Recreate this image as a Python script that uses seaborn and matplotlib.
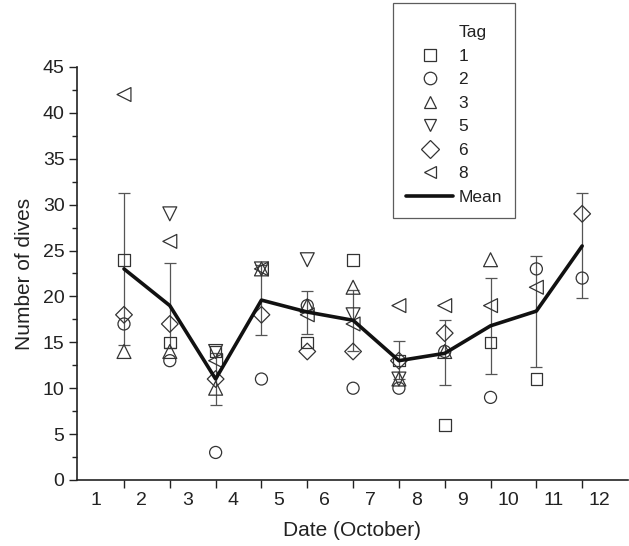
import numpy as np
import pandas as pd
import matplotlib
matplotlib.use("Agg")
import matplotlib.pyplot as plt
from matplotlib.lines import Line2D
import seaborn as sns

# ---- data ----
dates = [2, 3, 4, 5, 6, 7, 8, 9, 10, 11, 12]
tag_1 = [24, 15, 14, np.nan, 15, 24, 13, 6, 15, 11, np.nan]
tag_2 = [17, 13, 3, 11, 19, 10, 10, 14, 9, 23, 22]
tag_3 = [14, 14, 10, 23, 19, 21, 11, 14, 24, np.nan, np.nan]
tag_5 = [np.nan, 29, 14, 23, 24, 18, 11, np.nan, np.nan, np.nan, np.nan]
tag_6 = [18, 17, 11, 18, 14, 14, 13, 16, np.nan, np.nan, 29]
tag_8 = [42, 26, 13, 23, 18, 17, 19, 19, 19, 21, np.nan]
mean_dives = [23, 19, 11, 19.6, 18.3, 17.4, 13.0, 13.8, 16.8, 18.4, 25.5]
err_low = [14.7, 14.4, 8.2, 15.8, 15.9, 14.1, 11.0, 10.3, 11.6, 12.3, 19.8]
err_high = [31.3, 23.6, 13.8, 23.4, 20.6, 20.7, 15.1, 17.4, 22.0, 24.4, 31.3]
tag_names = ["1", "2", "3", "5", "6", "8"]
day_labels = ["1", "2", "3", "4", "5", "6", "7", "8", "9", "10", "11", "12"]

tag_series = [tag_1, tag_2, tag_3, tag_5, tag_6, tag_8]
rows = []
for name, vals in zip(tag_names, tag_series):
    for d, v in zip(dates, vals):
        if not np.isnan(v):
            rows.append({"Date": d, "Dives": v, "Tag": name})
df = pd.DataFrame(rows)
mean_df = pd.DataFrame({"Date": dates, "Mean": mean_dives})

sns.set_theme(style="ticks")
plt.rcParams["font.family"] = ["Liberation Sans", "DejaVu Sans"]
plt.rcParams["text.color"] = "#222222"
plt.rcParams["axes.labelcolor"] = "#222222"
plt.rcParams["xtick.color"] = "#222222"
plt.rcParams["ytick.color"] = "#222222"

fig = plt.figure(figsize=(6.29, 5.46), dpi=100)
ax = fig.add_axes([0.1224, 0.1209, 0.876, 0.7564])

marker_map = {"1": "s", "2": "o", "3": "^", "5": "v", "6": "D", "8": "<"}
size_map = {"1": 70, "2": 75, "3": 100, "5": 100, "6": 72, "8": 100}
edge = "#333333"

# error bars
lo = np.array(mean_dives) - np.array(err_low)
hi = np.array(err_high) - np.array(mean_dives)
ax.errorbar(dates, mean_dives, yerr=[lo, hi], fmt="none", ecolor="#555555",
            elinewidth=0.9, capsize=4.5, capthick=0.9, zorder=1)

for name in tag_names:
    sub = df[df["Tag"] == name]
    sns.scatterplot(data=sub, x="Date", y="Dives", marker=marker_map[name],
                    s=size_map[name], facecolors="none", edgecolor=edge,
                    linewidth=0.9, ax=ax, zorder=3, legend=False)

sns.lineplot(data=mean_df, x="Date", y="Mean", color="#111111", lw=2.6,
             ax=ax, zorder=4, legend=False)

ax.set_xlim(0.974, 13.0)
ax.set_ylim(0, 45)
ax.set_xticks(dates)
ax.set_xticklabels([])
ax.set_xticks([i + 0.38 for i in range(1, 13)], minor=True)
ax.set_xticklabels(day_labels, minor=True)
ax.tick_params(axis="x", which="major", length=6, width=1.0, direction="out")
ax.tick_params(axis="x", which="minor", length=0, pad=9, labelsize=14)
ax.set_yticks(np.arange(0, 46, 5))
ax.set_yticks(np.arange(2.5, 45, 5), minor=True)
ax.tick_params(axis="y", which="major", length=6, width=1.0, labelsize=14, pad=3)
ax.tick_params(axis="y", which="minor", length=3.5, width=1.0)
for s in ["top", "right"]:
    ax.spines[s].set_visible(False)
for s in ["left", "bottom"]:
    ax.spines[s].set_linewidth(1.2)
    ax.spines[s].set_color("#222222")

ax.set_xlabel("Date (October)", fontsize=15, labelpad=8)
ax.set_ylabel("Number of dives", fontsize=15, labelpad=6)

title_handle = Line2D([], [], linestyle="none", marker=None)
handles = [title_handle]
handles += [Line2D([], [], marker=marker_map[n], linestyle="none", markersize=9,
                   markerfacecolor="none", markeredgecolor=edge, markeredgewidth=0.9)
            for n in tag_names]
handles.append(Line2D([], [], color="#111111", lw=2.6))
leg = fig.legend(handles, ["Tag"] + tag_names + ["Mean"], loc="upper left",
                 bbox_to_anchor=(0.625, 0.995), borderaxespad=0, fontsize=12.5,
                 title=" ", title_fontsize=1.5,
                 frameon=True, fancybox=False, edgecolor="#333333",
                 handlelength=2.7, labelspacing=0.48, borderpad=0.75,
                 handletextpad=0.3)
leg.get_frame().set_linewidth(0.9)

fig.savefig("out.png", dpi=100)
